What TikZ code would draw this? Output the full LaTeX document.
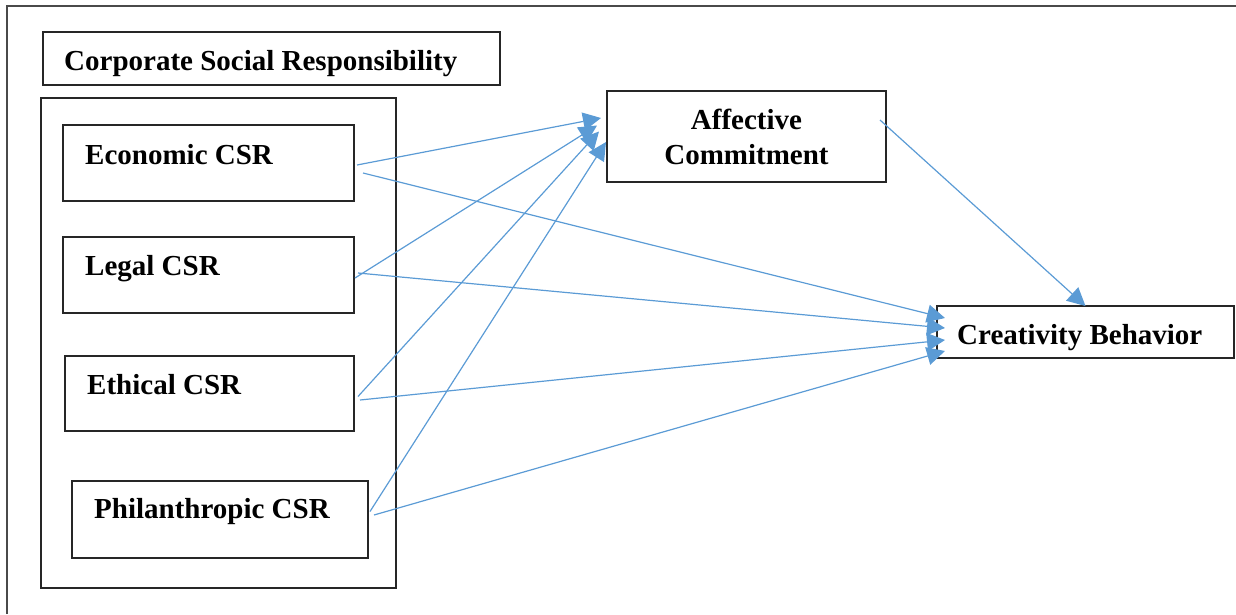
\documentclass[tikz,border=0pt]{standalone}
\usepackage{fontspec}
\setmainfont{Liberation Serif}
\usetikzlibrary{arrows.meta}
\definecolor{linkblue}{HTML}{5B9BD5}
\definecolor{framegray}{HTML}{4A4A4A}
\begin{document}
\begin{tikzpicture}[x=1pt,y=-1pt,
  box/.style={draw=black!85,line width=1.6pt,inner sep=0pt,outer sep=0pt,rectangle},
  lbl/.style={font=\fontsize{29}{35}\selectfont\bfseries,inner sep=0pt,anchor=base west},
  link/.style={draw=linkblue,line width=1.2pt,-{Triangle[length=18pt,width=18pt]}}]
\useasboundingbox (0,0) rectangle (1236,614);
% page frame (top and left rules only)
\draw[framegray,line width=2pt] (7,614) -- (7,6) -- (1236,6);

% title and grouping box
\node[box,minimum width=457pt,minimum height=53pt] (title) at (271.5,58.5) {};
\node[lbl] (titletxt) at (64,70) {Corporate Social Responsibility};
\node[box,minimum width=355pt,minimum height=490pt] (group) at (218.5,343) {};

% CSR dimensions
\node[box,minimum width=291pt,minimum height=76pt] (eco) at (208.5,163) {};
\node[lbl] (ecotxt) at (85,164) {Economic CSR};
\node[box,minimum width=291pt,minimum height=76pt] (legal) at (208.5,275) {};
\node[lbl] (legaltxt) at (85,275) {Legal CSR};
\node[box,minimum width=289pt,minimum height=75pt] (ethic) at (209.5,393.5) {};
\node[lbl] (ethictxt) at (87,394) {Ethical CSR};
\node[box,minimum width=296pt,minimum height=77pt] (phil) at (220,519.5) {};
\node[lbl] (philtxt) at (94,518) {Philanthropic CSR};

% mediator and outcome
\node[box,minimum width=279pt,minimum height=91pt,align=center,
      font=\fontsize{29}{35}\selectfont\bfseries] (ac) at (746.5,136.5) {Affective\\Commitment};
\node[box,minimum width=297pt,minimum height=52pt] (cb) at (1085.5,332) {};
\node[lbl] (cbtxt) at (957,344) {Creativity Behavior};

% paths to affective commitment
\draw[link] ([shift={(3,2)}]eco.east) -- ([shift={(-6,-18.5)}]ac.west);
\draw[link] ([shift={(1,3)}]legal.east) -- ([shift={(-10,-11)}]ac.west);
\draw[link] ([shift={(4,3)}]ethic.east) -- ([shift={(-8,-5)}]ac.west);
\draw[link] ([shift={(2,-8)}]phil.east) -- ([shift={(-1,5.5)}]ac.west);

% paths to creativity behavior
\draw[link] ([shift={(9,10)}]eco.east) -- ([shift={(8,-14)}]cb.west);
\draw[link] ([shift={(4,-2)}]legal.east) -- ([shift={(8,-4)}]cb.west);
\draw[link] ([shift={(6,6.5)}]ethic.east) -- ([shift={(8,8)}]cb.west);
\draw[link] ([shift={(6,-4.5)}]phil.east) -- ([shift={(8,19)}]cb.west);
\draw[link] ([shift={(-6,-16.5)}]ac.east) -- (cb.north);
\end{tikzpicture}
\end{document}
